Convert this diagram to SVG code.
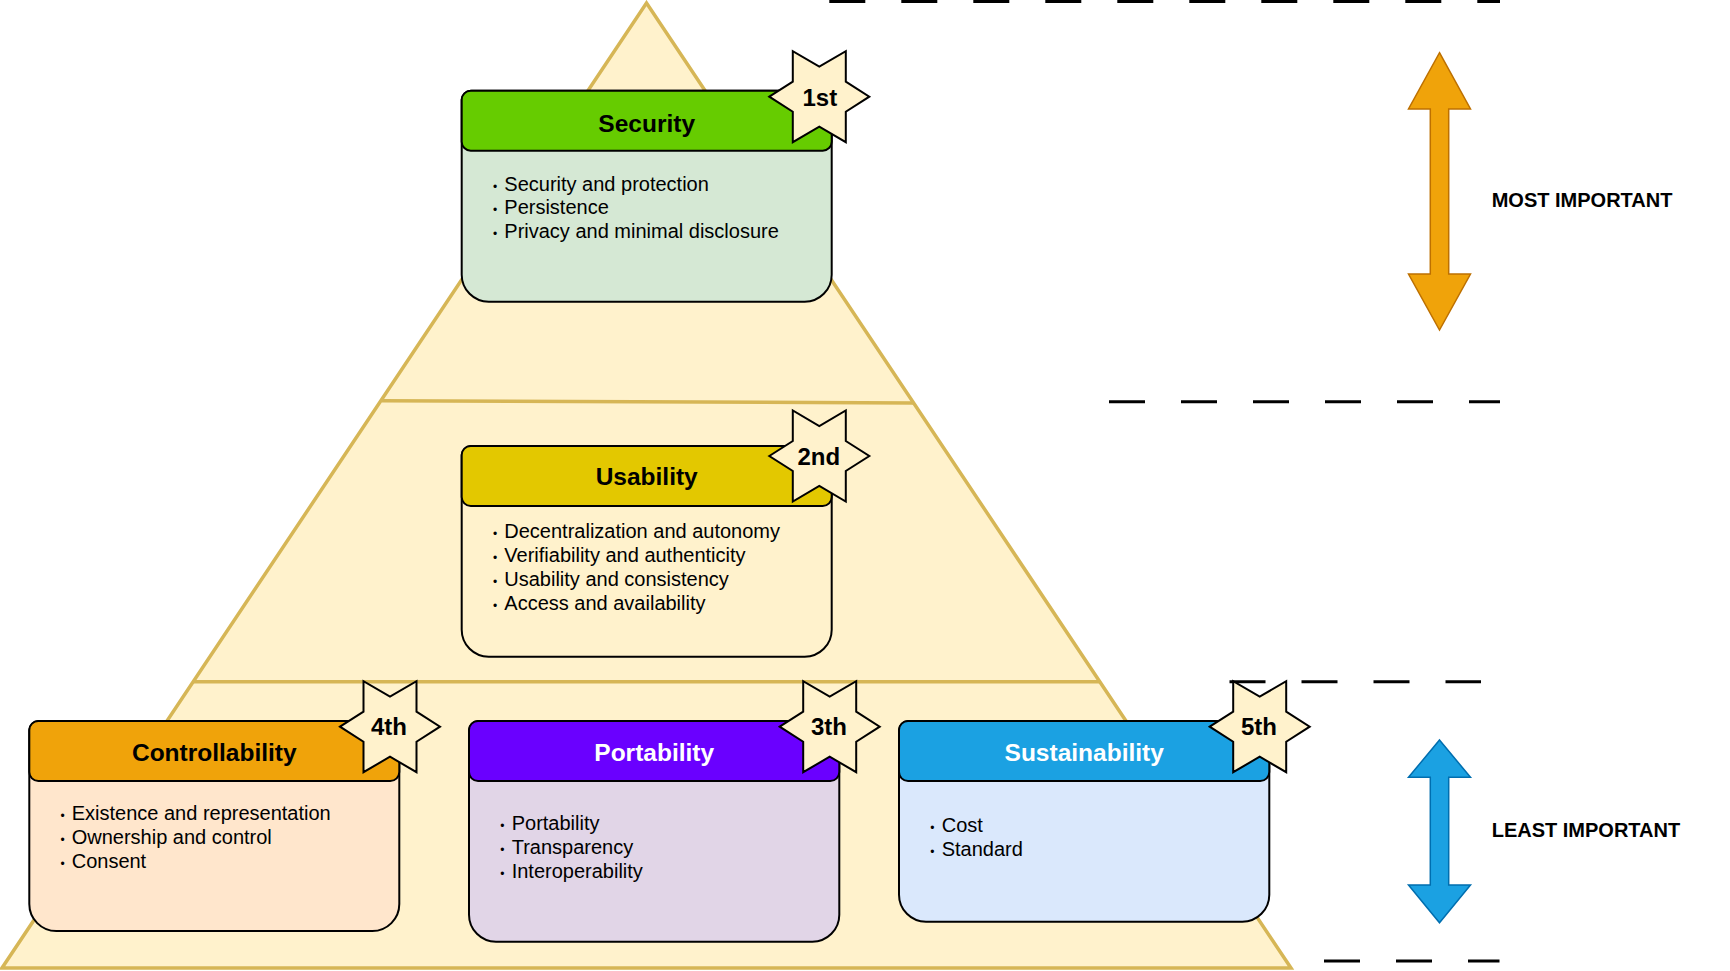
<svg xmlns="http://www.w3.org/2000/svg" width="1730" height="971" viewBox="0 0 1730 971">
<defs>
<style>
.pyr{fill:#fff2cc;stroke:#d6b656;stroke-width:3.5;stroke-linejoin:miter}
.div{stroke:#d6b656;stroke-width:3.5;fill:none}
.dash{stroke:#000;stroke-width:3;stroke-dasharray:36 36;fill:none}
.box{stroke:#000;stroke-width:2}
.title{font-family:"Liberation Sans",Arial,sans-serif;font-weight:bold;font-size:24.5px;text-anchor:middle}
.item{font-family:"Liberation Sans",Arial,sans-serif;font-size:20px;fill:#000}
.bul{font-family:"Liberation Sans",Arial,sans-serif;font-size:12px;text-anchor:middle;fill:#000}
.star{fill:#fff2cc;stroke:#000;stroke-width:2;stroke-linejoin:miter}
.rank{font-family:"Liberation Sans",Arial,sans-serif;font-weight:bold;font-size:24px;text-anchor:middle;fill:#000}
.lbl{font-family:"Liberation Sans",Arial,sans-serif;font-weight:bold;font-size:20px;fill:#000}
</style>
<path id="starShape" d="M-50,0 L-26.5,-15 L-26.5,-45.5 L0,-30 L26.5,-45.5 L26.5,-15 L50,0 L26.5,15 L26.5,45.5 L0,30 L-26.5,45.5 L-26.5,15 Z"/>
</defs>
<rect width="1730" height="971" fill="#ffffff"/>

<g id="pyramid">
<polygon class="pyr" points="646.5,3 1291,968 2,968"/>
<line class="div" x1="382" y1="400.7" x2="913" y2="403"/>
<line class="div" x1="192.5" y1="681.7" x2="1100.5" y2="681.7"/>
</g>

<g id="connectors">
<line class="dash" x1="829.3" y1="1.4" x2="1500" y2="1.4"/>
<line class="dash" x1="1109" y1="401.7" x2="1500" y2="401.7"/>
<line class="dash" x1="1229.5" y1="681.7" x2="1481" y2="681.7"/>
<line class="dash" x1="1324" y1="961" x2="1499.5" y2="961"/>
</g>

<g id="arrow-most">
<polygon fill="#f0a30a" stroke="#bd7000" stroke-width="1.5" points="1439.5,52.7 1470.5,109 1448.7,109 1448.7,274 1470.5,274 1439.5,330 1408.5,274 1430.3,274 1430.3,109 1408.5,109"/>
<text class="lbl" x="1491.7" y="206.7">MOST IMPORTANT</text>
</g>
<g id="arrow-least">
<polygon fill="#1ba1e2" stroke="#006eaf" stroke-width="1.5" points="1439.5,740 1470.5,777.3 1448.7,777.3 1448.7,885 1470.5,885 1439.5,922.7 1408.5,885 1430.3,885 1430.3,777.3 1408.5,777.3"/>
<text class="lbl" x="1491.7" y="836.7">LEAST IMPORTANT</text>
</g>

<g id="security">
<path class="box" fill="#d5e8d4" d="M471.7,90.7 H821.7 A10,10 0 0 1 831.7,100.7 V274.7 A27,27 0 0 1 804.7,301.7 H488.7 A27,27 0 0 1 461.7,274.7 V100.7 A10,10 0 0 1 471.7,90.7 Z"/>
<rect class="box" fill="#66cc00" x="461.7" y="90.7" width="370" height="60" rx="9"/>
<text class="title" x="646.7" y="131.5">Security</text>
<text class="bul" x="495" y="190.5">•</text><text class="item" x="504.3" y="190.5">Security and protection</text>
<text class="bul" x="495" y="214">•</text><text class="item" x="504.3" y="214">Persistence</text>
<text class="bul" x="495" y="237.5">•</text><text class="item" x="504.3" y="237.5">Privacy and minimal disclosure</text>
</g>

<g id="usability">
<path class="box" fill="#fff2cc" d="M471.7,446 H821.7 A10,10 0 0 1 831.7,456 V629.7 A27,27 0 0 1 804.7,656.7 H488.7 A27,27 0 0 1 461.7,629.7 V456 A10,10 0 0 1 471.7,446 Z"/>
<rect class="box" fill="#e3c800" x="461.7" y="446" width="370" height="60" rx="9"/>
<text class="title" x="646.7" y="485">Usability</text>
<text class="bul" x="495" y="537.7">•</text><text class="item" x="504.3" y="537.7">Decentralization and autonomy</text>
<text class="bul" x="495" y="561.7">•</text><text class="item" x="504.3" y="561.7">Verifiability and authenticity</text>
<text class="bul" x="495" y="585.7">•</text><text class="item" x="504.3" y="585.7">Usability and consistency</text>
<text class="bul" x="495" y="609.5">•</text><text class="item" x="504.3" y="609.5">Access and availability</text>
</g>

<g id="controllability">
<path class="box" fill="#ffe6cc" d="M39.3,721 H389.3 A10,10 0 0 1 399.3,731 V904 A27,27 0 0 1 372.3,931 H56.3 A27,27 0 0 1 29.3,904 V731 A10,10 0 0 1 39.3,721 Z"/>
<rect class="box" fill="#f0a30a" x="29.3" y="721" width="370" height="60" rx="9"/>
<text class="title" x="214.3" y="760.5">Controllability</text>
<text class="bul" x="62.5" y="820">•</text><text class="item" x="71.7" y="820">Existence and representation</text>
<text class="bul" x="62.5" y="844">•</text><text class="item" x="71.7" y="844">Ownership and control</text>
<text class="bul" x="62.5" y="867.8">•</text><text class="item" x="71.7" y="867.8">Consent</text>
</g>

<g id="portability">
<path class="box" fill="#e1d5e7" d="M479,721 H829.3 A10,10 0 0 1 839.3,731 V914.7 A27,27 0 0 1 812.3,941.7 H496 A27,27 0 0 1 469,914.7 V731 A10,10 0 0 1 479,721 Z"/>
<rect class="box" fill="#6a00ff" x="469" y="721" width="370.3" height="60" rx="9"/>
<text class="title" x="654.2" y="760.5" fill="#ffffff">Portability</text>
<text class="bul" x="502.4" y="830">•</text><text class="item" x="511.7" y="830">Portability</text>
<text class="bul" x="502.4" y="854">•</text><text class="item" x="511.7" y="854">Transparency</text>
<text class="bul" x="502.4" y="878.2">•</text><text class="item" x="511.7" y="878.2">Interoperability</text>
</g>

<g id="sustainability">
<path class="box" fill="#dae8fc" d="M909,721 H1259.3 A10,10 0 0 1 1269.3,731 V894.7 A27,27 0 0 1 1242.3,921.7 H926 A27,27 0 0 1 899,894.7 V731 A10,10 0 0 1 909,721 Z"/>
<rect class="box" fill="#1ba1e2" x="899" y="721" width="370.3" height="60" rx="9"/>
<text class="title" x="1084.2" y="760.5" fill="#ffffff">Sustainability</text>
<text class="bul" x="932.4" y="831.7">•</text><text class="item" x="941.7" y="831.7">Cost</text>
<text class="bul" x="932.4" y="855.8">•</text><text class="item" x="941.7" y="855.8">Standard</text>
</g>

<g id="star-1st">
<use href="#starShape" class="star" transform="translate(819.3,96.7)"/>
<text class="rank" x="819.8" y="105.8">1st</text>
</g>
<g id="star-2nd">
<use href="#starShape" class="star" transform="translate(819.3,456)"/>
<text class="rank" x="818.8" y="465">2nd</text>
</g>
<g id="star-4th">
<use href="#starShape" class="star" transform="translate(390,726.7)"/>
<text class="rank" x="389" y="735">4th</text>
</g>
<g id="star-3th">
<use href="#starShape" class="star" transform="translate(829.7,726.7)"/>
<text class="rank" x="829" y="735">3th</text>
</g>
<g id="star-5th">
<use href="#starShape" class="star" transform="translate(1259.7,726.7)"/>
<text class="rank" x="1259" y="735">5th</text>
</g>
</svg>
